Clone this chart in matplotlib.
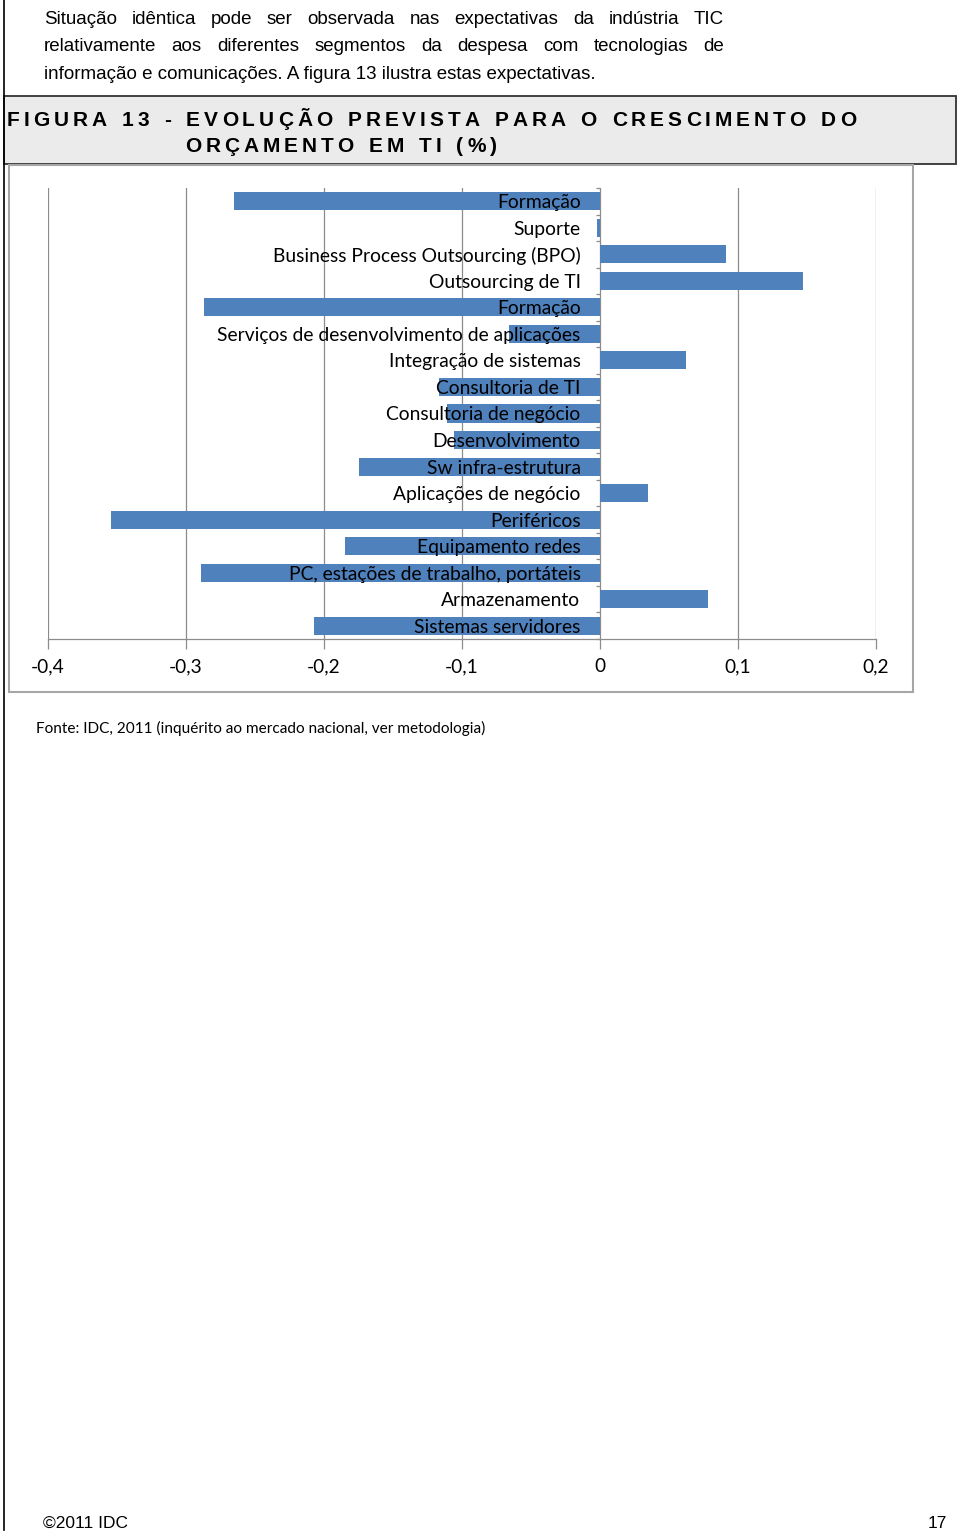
import matplotlib
matplotlib.use("Agg")
import matplotlib.pyplot as plt
import numpy as np
from matplotlib.patches import Rectangle

# chart data, top to bottom as in the figure
categories = [
    "Formação",
    "Suporte",
    "Business Process Outsourcing (BPO)",
    "Outsourcing de TI",
    "Formação",
    "Serviços de desenvolvimento de aplicações",
    "Integração de sistemas",
    "Consultoria de TI",
    "Consultoria de negócio",
    "Desenvolvimento",
    "Sw infra-estrutura",
    "Aplicações de negócio",
    "Periféricos",
    "Equipamento redes",
    "PC, estações de trabalho, portáteis",
    "Armazenamento",
    "Sistemas servidores",
]
values = [-0.265, -0.002, 0.091, 0.147, -0.287, -0.066, 0.062, -0.117, -0.111,
          -0.106, -0.175, 0.035, -0.354, -0.185, -0.289, 0.078, -0.207]
x_ticks = [-0.4, -0.3, -0.2, -0.1, 0.0, 0.1, 0.2]
x_tick_labels = ["-0,4", "-0,3", "-0,2", "-0,1", "0", "0,1", "0,2"]

paragraph = [
    "Situação idêntica pode ser observada nas expectativas da indústria TIC",
    "relativamente aos diferentes segmentos da despesa com tecnologias de",
    "informação e comunicações. A figura 13 ilustra estas expectativas.",
]
title_lines = [
    "FIGURA 13 - EVOLUÇÃO PREVISTA PARA O CRESCIMENTO DO",
    "ORÇAMENTO EM TI (%)",
]
source = "Fonte: IDC, 2011 (inquérito ao mercado nacional, ver metodologia)"

W, H = 960, 1538
BAR = "#4F81BD"
GRID = "#8c8c8c"
NARROW = ["Liberation Sans Narrow", "Liberation Sans", "DejaVu Sans"]
CHART_FONT = ["Lato", "DejaVu Sans"]

fig = plt.figure(figsize=(W / 100, H / 100), dpi=100)
fig.patch.set_facecolor("white")
renderer = fig.canvas.get_renderer()

# page layer in pixel coordinates
bg = fig.add_axes([0, 0, 1, 1], zorder=0)
bg.set_xlim(0, W)
bg.set_ylim(H, 0)
bg.axis("off")

bg.plot([4, 4], [0, 1530], color="black", lw=1.2)


def text_width(s, **kw):
    t = bg.text(0, 0, s, **kw)
    w = t.get_window_extent(renderer).width
    t.remove()
    return w


def justified(words_line, x0, x1, y, **kw):
    words = words_line.split()
    widths = [text_width(w, **kw) for w in words]
    gap = (x1 - x0 - sum(widths)) / (len(words) - 1)
    x = x0
    for w, wd in zip(words, widths):
        bg.text(x, y, w, ha="left", va="baseline", **kw)
        x += wd + gap


def char_widths(s, **kw):
    return [text_width(ch if ch != " " else "n", **kw) * (0.55 if ch == " " else 1.0) for ch in s]


def tracked(s, x0, y, track, **kw):
    x = x0
    for ch, wd in zip(s, char_widths(s, **kw)):
        if ch != " ":
            bg.text(x, y, ch, ha="left", va="baseline", **kw)
        x += wd + track


para_kw = dict(fontsize=13.5, family=NARROW, color="black")
justified(paragraph[0], 44, 724, 24, **para_kw)
justified(paragraph[1], 44, 724, 51, **para_kw)
bg.text(44, 79, paragraph[2], ha="left", va="baseline", **para_kw)

# title box
bg.add_patch(Rectangle((4, 96), 952, 68, facecolor="#ebebeb", edgecolor="#333333", lw=1.3))
title_kw = dict(fontsize=15, family=NARROW, weight="bold", color="black")
cw = char_widths(title_lines[0], **title_kw)
track = (856 - 7 - sum(cw)) / (len(cw) - 1)
tracked(title_lines[0], 7, 126, track, **title_kw)
tracked(title_lines[1], 185, 152, track, **title_kw)

# chart box
bg.add_patch(Rectangle((8.5, 165), 904, 527, facecolor="white", edgecolor="#a6a6a6", lw=1.5))

bg.text(36, 733, source, ha="left", va="baseline", fontsize=11.1, family=CHART_FONT, color="black")
bg.text(43, 1528, "©2011 IDC", ha="left", va="baseline", fontsize=12.5, family=NARROW)
bg.text(947, 1528, "17", ha="right", va="baseline", fontsize=12.5, family=NARROW)

# bar chart
ax = fig.add_axes([48 / W, 1 - 639 / H, (876 - 48) / W, (639 - 188) / H], zorder=1)
ax.patch.set_alpha(0)
pos = np.arange(len(categories))
for xt in x_ticks:
    ax.axvline(xt, color=GRID, lw=0.9, zorder=0.5)
ax.barh(pos, values, height=0.68, color=BAR, zorder=1)
ax.set_xlim(-0.4, 0.2)
ax.set_ylim(len(categories) - 0.5, -0.5)
ax.set_xticks(x_ticks)
ax.set_xticklabels(x_tick_labels, family=CHART_FONT, fontsize=13.8)
ax.tick_params(axis="x", length=7, width=0.9, color=GRID, pad=7)

ax.spines["left"].set_position(("data", 0))
ax.spines["left"].set_visible(False)
ax.spines["top"].set_visible(False)
ax.spines["right"].set_visible(False)
ax.spines["bottom"].set_color(GRID)
ax.spines["bottom"].set_linewidth(0.9)
ax.spines["bottom"].set_zorder(3)

ax.set_yticks(pos)
ax.set_yticklabels(categories, family=CHART_FONT, fontsize=13.9)
ax.set_yticks(np.arange(-0.5, len(categories), 1), minor=True)
ax.tick_params(axis="y", which="major", length=0, pad=14)
ax.tick_params(axis="y", which="minor", length=3, width=0.9, color=GRID)
ax.yaxis.set_zorder(5)

fig.savefig("out.png", dpi=100)
